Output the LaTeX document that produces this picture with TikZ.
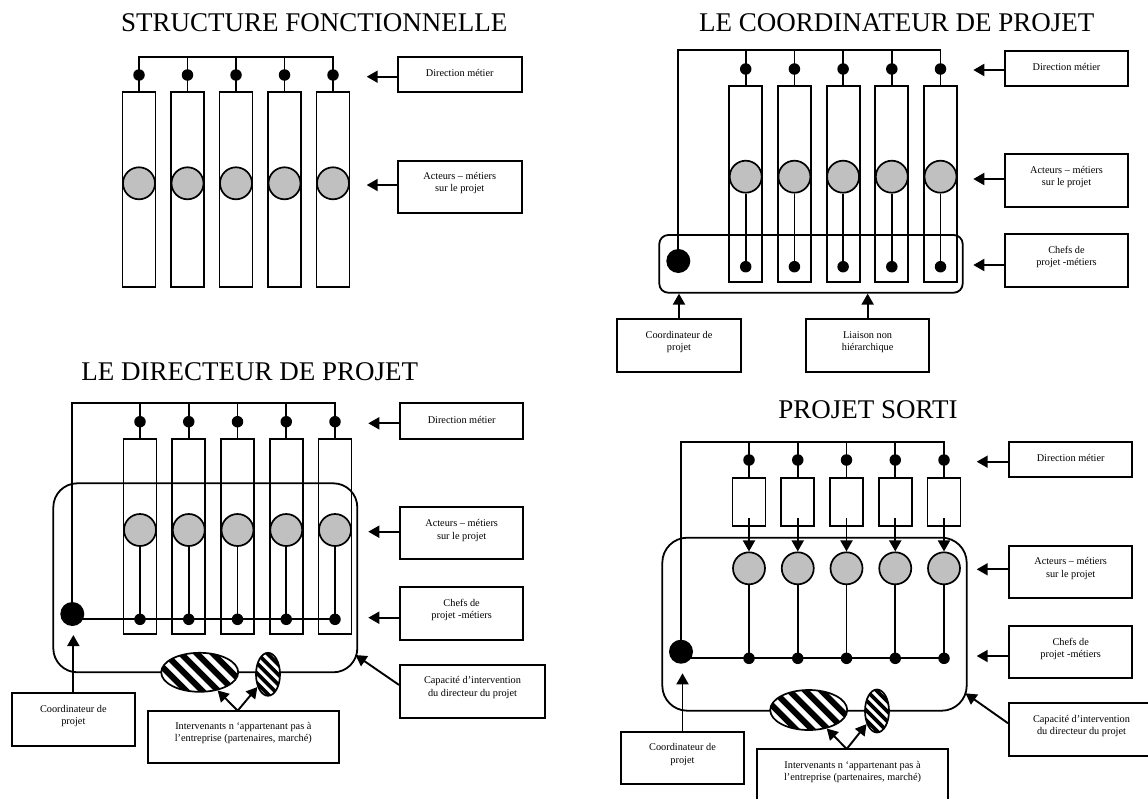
\documentclass[tikz,border=0pt]{standalone}
\usepackage{fontspec}
\setmainfont{Liberation Serif}
\usetikzlibrary{shapes.geometric,arrows.meta,calc}
\definecolor{silver}{RGB}{192,192,192}
\begin{document}
\begin{tikzpicture}[x=1pt,y=-1pt,
 ln/.style={line width=1.8pt},
 lbox/.style={draw, line width=2pt, rectangle, inner sep=0pt},
 colbox/.style={draw, line width=1.8pt, rectangle, inner sep=0pt, minimum width=33pt},
 txt/.style={font=\fontsize{10.3}{12.4}\selectfont, align=center, inner sep=0pt},
 ttl/.style={font=\fontsize{27}{30}\selectfont, anchor=base, inner sep=0pt},
 dot/.style={circle, fill=black, inner sep=0pt, minimum size=11.5pt},
 bigdot/.style={circle, fill=black, inner sep=0pt, minimum size=24pt},
 act/.style={circle, draw, line width=1.7pt, fill=silver, inner sep=0pt, minimum size=32pt},
 arr/.style={line width=1.9pt, -{Triangle[length=11pt,width=12pt]}},
 rbox/.style={draw, line width=1.8pt, rectangle, inner sep=0pt},
 hatchA/.style={ellipse, draw, line width=1.7pt, fill=white, inner sep=0pt, minimum width=77pt, minimum height=40pt,
   path picture={\foreach \k in {-5,...,5} \draw[line width=6pt] ([xshift=\k*16pt-45pt, yshift=45pt]path picture bounding box.center) -- ++(90pt,-90pt);}},
 hatchB/.style={ellipse, draw, line width=1.7pt, fill=white, inner sep=0pt, minimum width=24pt, minimum height=43pt,
   path picture={\foreach \k in {-6,...,6} \draw[line width=3.8pt] ([xshift=\k*10pt-30pt, yshift=30pt]path picture bounding box.center) -- ++(60pt,-60pt);}},
]
\useasboundingbox (0,0) rectangle (1148,798);
\fill[white] (0,0) rectangle (1148,798);
\clip (0,0) rectangle (1148,798);

% ---------------- titles
\node[ttl] (t1) at (314.3,31.7) {STRUCTURE FONCTIONNELLE};
\node[ttl] (t2) at (896.7,31.7) {LE COORDINATEUR DE PROJET};
\node[ttl] (t3) at (249.7,380.7) {LE DIRECTEUR DE PROJET};
\node[ttl] (t4) at (868,418.3) {PROJET SORTI};

% ================= TOP LEFT
\foreach \i in {1,...,5}{
 \pgfmathsetmacro{\x}{139+48.5*(\i-1)}
 \node[colbox, minimum height=195pt] (tl-r\i) at (\x,189.8) {};
 \node[act] (tl-a\i) at (\x,183.3) {};
 \node[dot] (tl-d\i) at (\x,75) {};
 \coordinate (tl-b\i) at (\x,56.7);
 \draw[ln] (tl-b\i) -- (tl-d\i.center) -- (tl-r\i.north);
}
\draw[ln] (tl-d1.center) -- (tl-b1) -- (tl-b5) -- (tl-d5.center);

\node[lbox, minimum width=124pt, minimum height=35.6pt] (tl-dir) at (459.7,74.5) {};
\node[txt] (tl-dir-t) at (459.7,72.7) {Direction métier};
\coordinate (tl-dir-tip) at (366.7,76.7);
\draw[arr] (tl-dir.west |- tl-dir-tip) -- (tl-dir-tip);

\node[lbox, minimum width=124pt, minimum height=52pt] (tl-act) at (459.7,186.7) {};
\node[txt] (tl-act-t) at (459.7,182.85) {Acteurs – métiers\\sur le projet};
\coordinate (tl-act-tip) at (366.7,185);
\draw[arr] (tl-act.west |- tl-act-tip) -- (tl-act-tip);

% ================= TOP RIGHT
\node[rbox, rounded corners=9pt, minimum width=303.4pt, minimum height=57.7pt] (tr-round) at (811,263.85) {};
\foreach \i in {1,...,5}{
 \pgfmathsetmacro{\x}{745.7+48.7*(\i-1)}
 \node[colbox, minimum height=196pt] (tr-r\i) at (\x,183.7) {};
 \node[act] (tr-a\i) at (\x,176.7) {};
 \node[dot] (tr-d\i) at (\x,69) {};
 \node[dot] (tr-e\i) at (\x,266.7) {};
 \coordinate (tr-b\i) at (\x,50);
 \draw[ln] (tr-b\i) -- (tr-d\i.center) -- (tr-r\i.north);
 \draw[ln] (tr-a\i) -- (tr-e\i.center);
}
\node[bigdot] (tr-big) at (678.3,261) {};
\coordinate (tr-b0) at (678.3,50);
\draw[ln] (tr-big.center) -- (tr-b0) -- (tr-b5) -- (tr-d5.center);

\node[lbox, minimum width=123pt, minimum height=35.3pt] (tr-dir) at (1066.5,68.35) {};
\node[txt] (tr-dir-t) at (1066.5,66.7) {Direction métier};
\coordinate (tr-dir-tip) at (973.3,70);
\draw[arr] (tr-dir.west |- tr-dir-tip) -- (tr-dir-tip);

\node[lbox, minimum width=123pt, minimum height=52.4pt] (tr-act) at (1066.5,180.5) {};
\node[txt] (tr-act-t) at (1066.5,176.85) {Acteurs – métiers\\sur le projet};
\coordinate (tr-act-tip) at (973.3,179);
\draw[arr] (tr-act.west |- tr-act-tip) -- (tr-act-tip);

\node[lbox, minimum width=123pt, minimum height=53pt] (tr-chef) at (1066.5,260.8) {};
\node[txt] (tr-chef-t) at (1066.5,257) {Chefs de\\projet -métiers};
\coordinate (tr-chef-tip) at (973.3,265);
\draw[arr] (tr-chef.west |- tr-chef-tip) -- (tr-chef-tip);

\node[lbox, minimum width=123.4pt, minimum height=53pt] (tr-coord) at (679,345.8) {};
\node[txt] (tr-coord-t) at (679,342) {Coordinateur de\\projet};
\draw[arr] (tr-coord.north) -- (tr-coord.north |- tr-round.south);

\node[lbox, minimum width=123.3pt, minimum height=53pt] (tr-lia) at (867.65,345.8) {};
\node[txt] (tr-lia-t) at (867.65,342) {Liaison non\\hiérarchique};
\draw[arr] (tr-lia.north) -- (tr-lia.north |- tr-round.south);

% ================= BOTTOM LEFT
\foreach \i in {1,...,5}{
 \pgfmathsetmacro{\x}{140+48.75*(\i-1)}
 \node[colbox, minimum height=195.3pt] (bl-r\i) at (\x,536.65) {};
 \node[act] (bl-a\i) at (\x,530) {};
 \node[dot] (bl-d\i) at (\x,421.7) {};
 \node[dot] (bl-e\i) at (\x,619.3) {};
 \coordinate (bl-b\i) at (\x,402.7);
 \draw[ln] (bl-b\i) -- (bl-d\i.center) -- (bl-r\i.north);
 \draw[ln] (bl-a\i) -- (bl-e\i.center);
}
\node[bigdot] (bl-big) at (72.3,614) {};
\coordinate (bl-b0) at (72.3,402.7);
\draw[ln] (bl-big.center) -- (bl-b0) -- (bl-b5) -- (bl-d5.center);
\draw[ln] (bl-big.center |- bl-e1) -- (bl-e5.center);
\node[rbox, rounded corners=24pt, minimum width=304pt, minimum height=189pt] (bl-round) at (205.3,577.8) {};
\node[hatchA, minimum height=39pt] (bl-h1) at (199.7,672.3) {};
\node[hatchB] (bl-h2) at (268,674.3) {};

\node[lbox, minimum width=123.3pt, minimum height=35.7pt] (bl-dir) at (461.65,421.15) {};
\node[txt] (bl-dir-t) at (461.65,420) {Direction métier};
\coordinate (bl-dir-tip) at (368.3,423.3);
\draw[arr] (bl-dir.west |- bl-dir-tip) -- (bl-dir-tip);

\node[lbox, minimum width=123.3pt, minimum height=52.6pt] (bl-act) at (461.65,533) {};
\node[txt] (bl-act-t) at (461.65,530.5) {Acteurs – métiers\\sur le projet};
\coordinate (bl-act-tip) at (368.3,531.7);
\draw[arr] (bl-act.west |- bl-act-tip) -- (bl-act-tip);

\node[lbox, minimum width=123.3pt, minimum height=52.7pt] (bl-chef) at (461.65,613.65) {};
\node[txt] (bl-chef-t) at (461.65,610) {Chefs de\\projet -métiers};
\coordinate (bl-chef-tip) at (368.3,617.7);
\draw[arr] (bl-chef.west |- bl-chef-tip) -- (bl-chef-tip);

\node[lbox, minimum width=145pt, minimum height=52.7pt] (bl-cap) at (472.5,691.35) {};
\node[txt] (bl-cap-t) at (472.5,687.5) {Capacité d’intervention\\du directeur du projet};
\coordinate (bl-cap-tip) at (355.5,655);
\draw[arr] (bl-cap.175) -- (bl-cap-tip);

\node[lbox, minimum width=123.3pt, minimum height=52.4pt] (bl-coord) at (73.35,719.5) {};
\node[txt] (bl-coord-t) at (73.35,715.85) {Coordinateur de\\projet};
\coordinate (bl-coord-tip) at (73.35,635);
\draw[arr] (bl-coord.north) -- (bl-coord-tip);

\node[lbox, minimum width=191.3pt, minimum height=52.6pt] (bl-int) at (243.35,737) {};
\node[txt] (bl-int-t) at (243.35,732.85) {Intervenants n ‘appartenant pas à\\l’entreprise (partenaires, marché)};
\coordinate (bl-int-o) at (237.7,710.7);
\draw[arr] (bl-int-o) -- (bl-h1);
\draw[arr] (bl-int-o) -- (bl-h2);

% ================= BOTTOM RIGHT
\foreach \i in {1,...,5}{
 \pgfmathsetmacro{\x}{749+48.75*(\i-1)}
 \node[colbox, minimum height=48.3pt] (br-r\i) at (\x,501.85) {};
 \node[act] (br-a\i) at (\x,568.3) {};
 \node[dot] (br-d\i) at (\x,460) {};
 \node[dot] (br-e\i) at (\x,658.3) {};
 \coordinate (br-b\i) at (\x,441.7);
 \coordinate (br-s\i) at (\x,518);
 \draw[ln] (br-b\i) -- (br-d\i.center) -- (br-r\i.north);
 \draw[arr] (br-s\i) -- (br-a\i);
 \draw[ln] (br-a\i) -- (br-e\i.center);
}
\node[bigdot] (br-big) at (681,651.7) {};
\coordinate (br-b0) at (681,441.7);
\draw[ln] (br-big.center) -- (br-b0) -- (br-b5) -- (br-d5.center);
\draw[ln] (br-big.center |- br-e1) -- (br-e5.center);
\node[rbox, rounded corners=25pt, minimum width=304.4pt, minimum height=173pt] (br-round) at (814.5,624.2) {};
\node[hatchA] (br-h1) at (808.7,710) {};
\node[hatchB] (br-h2) at (877,711) {};

\node[lbox, minimum width=123.3pt, minimum height=35.6pt] (br-dir) at (1070.65,459.5) {};
\node[txt] (br-dir-t) at (1070.65,458.3) {Direction métier};
\coordinate (br-dir-tip) at (976.7,461.7);
\draw[arr] (br-dir.west |- br-dir-tip) -- (br-dir-tip);

\node[lbox, minimum width=123.3pt, minimum height=52pt] (br-act) at (1070.65,571.7) {};
\node[txt] (br-act-t) at (1070.65,568.35) {Acteurs – métiers\\sur le projet};
\coordinate (br-act-tip) at (976.7,569.3);
\draw[arr] (br-act.west |- br-act-tip) -- (br-act-tip);

\node[lbox, minimum width=123.3pt, minimum height=52.3pt] (br-chef) at (1070.65,652.15) {};
\node[txt] (br-chef-t) at (1070.65,648.85) {Chefs de\\projet -métiers};
\coordinate (br-chef-tip) at (976.7,656);
\draw[arr] (br-chef.west |- br-chef-tip) -- (br-chef-tip);

\node[lbox, minimum width=145pt, minimum height=52.7pt] (br-cap) at (1081.5,729.65) {};
\node[txt] (br-cap-t) at (1081.5,726.15) {Capacité d’intervention\\du directeur du projet};
\coordinate (br-cap-tip) at (965.5,693.3);
\draw[arr] (br-cap.175) -- (br-cap-tip);

\node[lbox, minimum width=123pt, minimum height=52pt] (br-coord) at (682.5,758.3) {};
\node[txt] (br-coord-t) at (682.5,754.7) {Coordinateur de\\projet};
\coordinate (br-coord-tip) at (682.5,673.3);
\draw[arr] (br-coord.north) -- (br-coord-tip);

\node[lbox, minimum width=191.6pt, minimum height=52.6pt] (br-int) at (852.5,775.3) {};
\node[txt] (br-int-t) at (852.5,772) {Intervenants n ‘appartenant pas à\\l’entreprise (partenaires, marché)};
\coordinate (br-int-o) at (846.7,749);
\draw[arr] (br-int-o) -- (br-h1);
\draw[arr] (br-int-o) -- (br-h2);
\end{tikzpicture}
\end{document}
